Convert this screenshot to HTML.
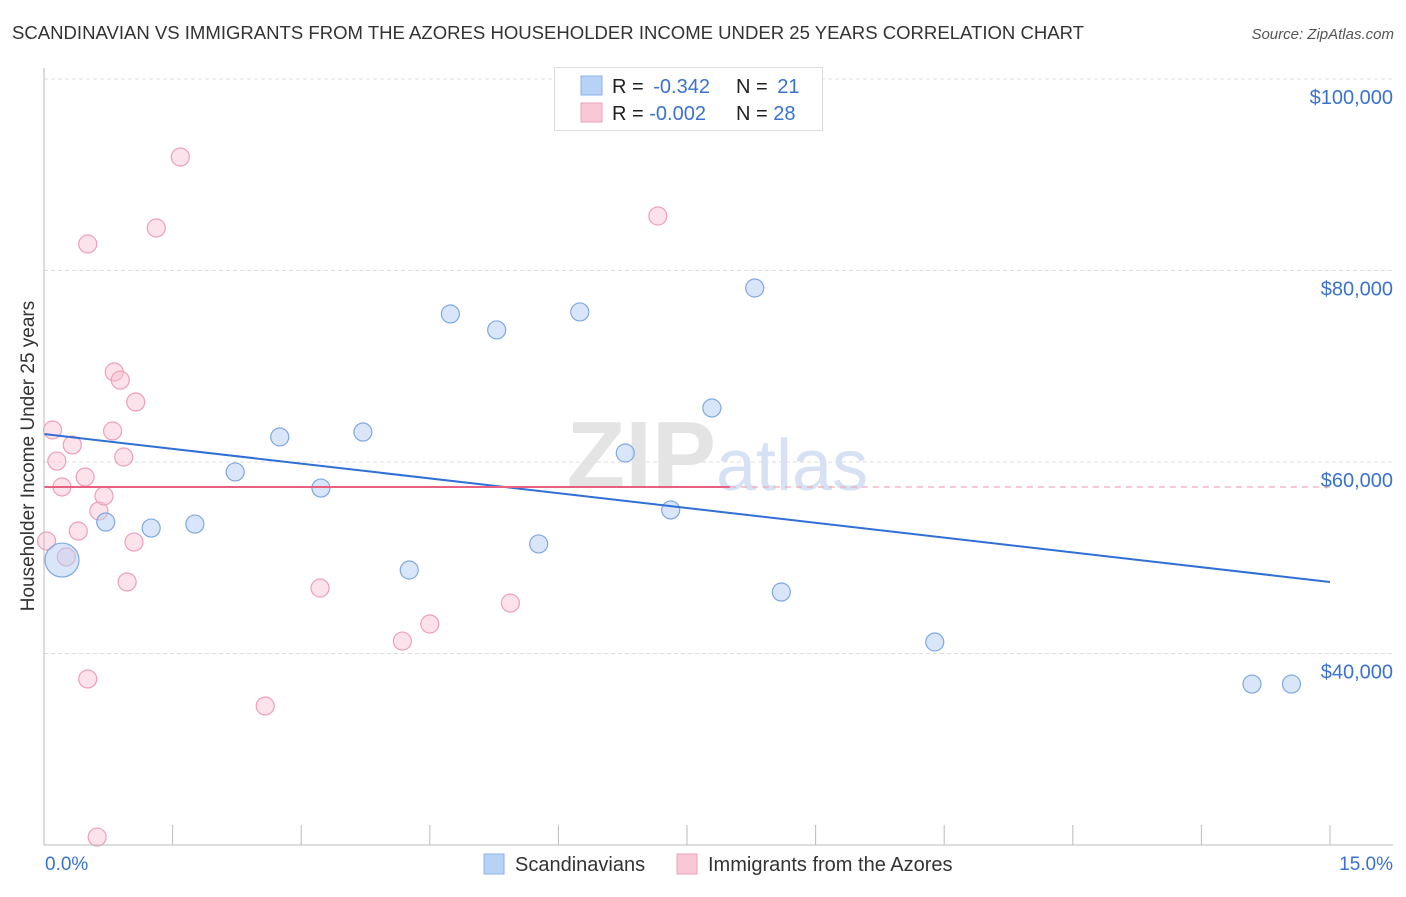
<!DOCTYPE html>
<html><head><meta charset="utf-8"><style>
body{margin:0;background:#fff;font-family:"Liberation Sans",sans-serif;}
svg text{font-family:"Liberation Sans",sans-serif;}
</style></head><body>
<svg id="chart" width="1406" height="892" viewBox="0 0 1406 892" xmlns="http://www.w3.org/2000/svg">
<text x="12" y="39" font-size="18.6" fill="#333" textLength="1072" lengthAdjust="spacingAndGlyphs">SCANDINAVIAN VS IMMIGRANTS FROM THE AZORES HOUSEHOLDER INCOME UNDER 25 YEARS CORRELATION CHART</text>
<text x="1394" y="39" font-size="15" fill="#555" font-style="italic" text-anchor="end">Source: ZipAtlas.com</text>
<g id="grid"></g>
<text x="716" y="488" font-size="96" fill="#e4e4e4" font-family="Liberation Serif" text-anchor="end" font-weight="bold">ZIP</text>
<text x="716" y="490" font-size="72" fill="#d6e2f3">atlas</text>
<g id="marks"></g>
<line x1="44" y1="68" x2="44" y2="845" stroke="#bbb" stroke-width="1"/>
<line x1="44" y1="845" x2="1393" y2="845" stroke="#bbb" stroke-width="1"/>
<text x="34" y="456" font-size="19" fill="#333" text-anchor="middle" transform="rotate(-90 34 456)">Householder Income Under 25 years</text>
<text x="45" y="870" font-size="19" fill="#3a72d0">0.0%</text>
<text x="1393" y="870" font-size="19" fill="#3a72d0" text-anchor="end">15.0%</text>
<g>
<rect x="554.5" y="67.5" width="268" height="63" fill="#fff" stroke="#ddd"/>
<rect x="581" y="76" width="21" height="19" fill="#b8d2f5" stroke="#8ab0e8"/>
<rect x="581" y="103" width="21" height="19" fill="#f9c7d6" stroke="#f0a0b8"/>
<text x="612" y="93" font-size="20" fill="#222">R = <tspan fill="#3a72d0" dx="4">-0.342</tspan></text>
<text x="736" y="93" font-size="20" fill="#222">N = <tspan fill="#3a72d0" dx="4">21</tspan></text>
<text x="612" y="120" font-size="20" fill="#222">R = <tspan fill="#3a72d0">-0.002</tspan></text>
<text x="736" y="120" font-size="20" fill="#222">N = <tspan fill="#3a72d0">28</tspan></text>
</g>
<g>
<rect x="484" y="854" width="20" height="20" fill="#b8d2f5" stroke="#8ab0e8"/>
<text x="515" y="871" font-size="20" fill="#333">Scandinavians</text>
<rect x="677" y="854" width="20" height="20" fill="#f9c7d6" stroke="#f0a0b8"/>
<text x="708" y="871" font-size="20" fill="#333">Immigrants from the Azores</text>
</g>
</svg>
<script>
const yTicks=[40000,60000,80000,100000];
const yTickLabels=["$40,000","$60,000","$80,000","$100,000"];
const xTicks=[0,1.5,3,4.5,6,7.5,9,10.5,12,13.5,15];
const blueX=[0.21,0.72,1.25,1.76,2.23,2.75,3.23,3.72,4.26,4.74,5.28,5.77,6.25,6.78,7.31,7.79,8.29,8.60,10.39,14.09,14.55];
const blueY=[49760,53730,53100,53520,58960,62610,57280,63130,48720,75460,73790,51440,75670,60940,54990,65640,78170,46420,41200,36810,36810];
const blueSize=[17,9,9,9,9,9,9,9,9,9,9,9,9,9,9,9,9,9,9,9,9];
const pinkX=[0.03,0.10,0.15,0.21,0.26,0.33,0.40,0.48,0.51,0.51,0.62,0.64,0.70,0.80,0.82,0.89,0.93,0.97,1.05,1.07,1.31,1.59,2.58,3.22,4.18,4.50,5.44,7.16];
const pinkY=[51750,63340,60100,57390,50080,61780,52790,58430,82770,37340,20830,54880,56450,63240,69400,68560,60520,47470,51640,66270,84440,91850,34520,46840,41300,43080,45270,85690];
const blueTrend=[62920,47470];
const pinkTrend=[57390,57390];
const pinkSolidEnd=8.0;

const NS="http://www.w3.org/2000/svg";
const xs=v=>44+(v/15)*1286;
const ys=v=>79+(100000-v)/20000*191.5;
const grid=document.getElementById('grid'),marks=document.getElementById('marks');
function mk(tag,attrs,parent){const e=document.createElementNS(NS,tag);for(const k in attrs)e.setAttribute(k,attrs[k]);parent.appendChild(e);return e;}
yTicks.forEach((t,i)=>{
  const l=mk('line',{x1:44,x2:1393,y1:ys(t),y2:ys(t),stroke:'#ddd','stroke-dasharray':'4,3'},grid);
  
  
  const tx=mk('text',{x:1393,y:ys(t)+25,'font-size':20,fill:'#3a72d0','text-anchor':'end'},grid);
  tx.textContent=yTickLabels[i];
  
  
});
xTicks.forEach(t=>{
  const l=mk('line',{x1:xs(t),x2:xs(t),y1:825,y2:845,stroke:'#bbb'},grid);
  
  
});
pinkX.forEach((x,i)=>{
  const c=mk('circle',{cx:xs(x),cy:ys(pinkY[i]),r:9,fill:'rgba(248,190,208,0.45)',stroke:'#eea0b8','stroke-width':1.2},marks);
  
  
});
blueX.forEach((x,i)=>{
  const c=mk('circle',{cx:xs(x),cy:ys(blueY[i]),r:blueSize[i],fill:'rgba(180,206,243,0.5)',stroke:'#7fa8e2','stroke-width':1.2},marks);
  
  
});
const bl=mk('line',{x1:xs(0),y1:ys(blueTrend[0]),x2:xs(15),y2:ys(blueTrend[1]),stroke:'#2f6fd6','stroke-width':2},marks);


const pl=mk('line',{x1:xs(0),y1:ys(pinkTrend[0]),x2:xs(pinkSolidEnd),y2:ys(pinkTrend[0]+(pinkTrend[1]-pinkTrend[0])*pinkSolidEnd/15),stroke:'#e8607f','stroke-width':2},marks);


const pd=mk('line',{x1:xs(pinkSolidEnd),y1:ys(pinkTrend[0]+(pinkTrend[1]-pinkTrend[0])*pinkSolidEnd/15),x2:xs(15),y2:ys(pinkTrend[1]),stroke:'#f0a8ba','stroke-width':1.2,'stroke-dasharray':'6,5'},marks);


</script>
</body></html>
